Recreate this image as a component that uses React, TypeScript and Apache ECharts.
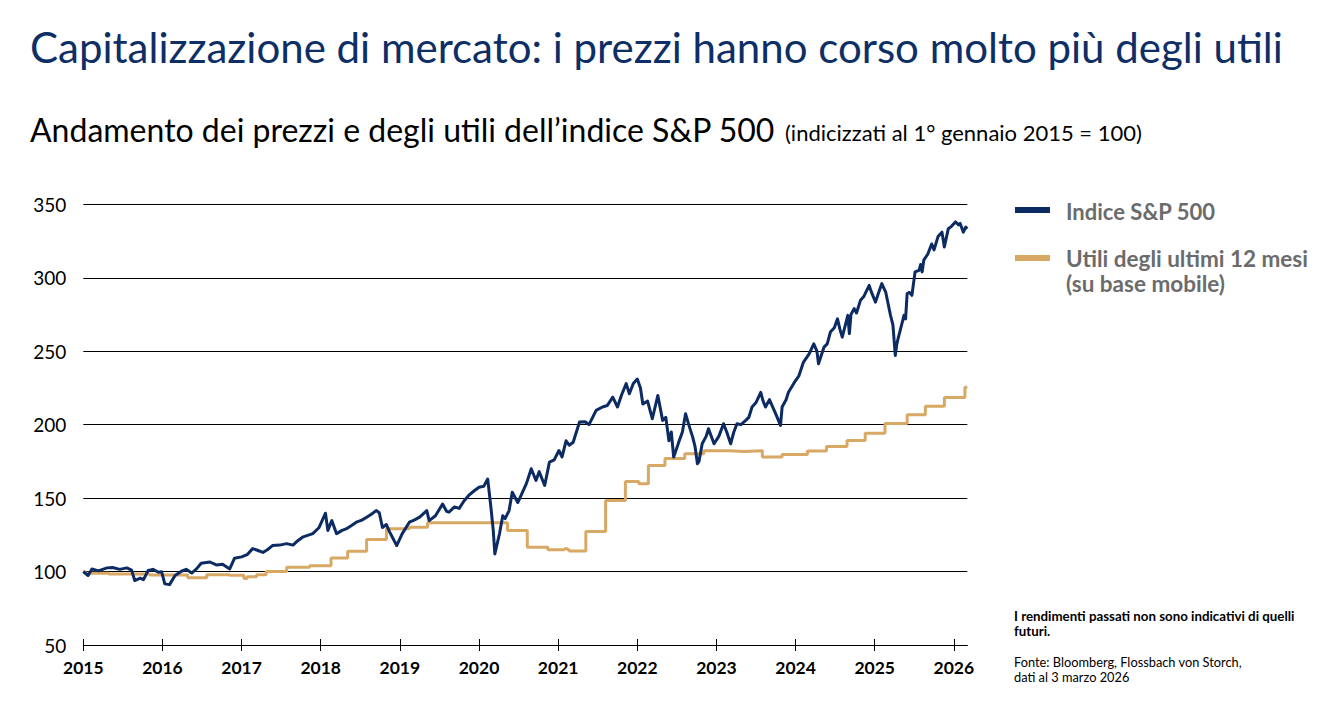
import React, { useEffect, useRef } from "react";
import * as echarts from "echarts";

const yearTicks = [2015, 2016, 2017, 2018, 2019, 2020, 2021, 2022, 2023, 2024, 2025, 2026];

// S&P 500 price index (indexed, 1 Jan 2015 = 100)
const spxDates = [
  2015.0, 2015.06, 2015.11, 2015.19, 2015.3, 2015.37, 2015.46, 2015.55, 2015.61, 2015.65, 2015.72, 2015.76,
  2015.82, 2015.88, 2015.95, 2015.99, 2016.03, 2016.09, 2016.16, 2016.24, 2016.3, 2016.37, 2016.43, 2016.49,
  2016.6, 2016.68, 2016.76, 2016.85, 2016.91, 2017.0, 2017.07, 2017.14, 2017.2, 2017.27, 2017.33, 2017.39,
  2017.48, 2017.57, 2017.65, 2017.71, 2017.77, 2017.9, 2017.98, 2018.06, 2018.09, 2018.14, 2018.2, 2018.27,
  2018.32, 2018.38, 2018.45, 2018.52, 2018.58, 2018.64, 2018.7, 2018.74, 2018.78, 2018.83, 2018.87, 2018.96,
  2019.03, 2019.12, 2019.18, 2019.25, 2019.34, 2019.37, 2019.45, 2019.54, 2019.59, 2019.62, 2019.69, 2019.75,
  2019.81, 2019.87, 2019.94, 2020.0, 2020.06, 2020.11, 2020.15, 2020.18, 2020.2, 2020.26, 2020.3, 2020.33,
  2020.38, 2020.42, 2020.49, 2020.55, 2020.6, 2020.66, 2020.72, 2020.76, 2020.83, 2020.89, 2020.95, 2021.01,
  2021.05, 2021.1, 2021.14, 2021.19, 2021.27, 2021.34, 2021.39, 2021.48, 2021.56, 2021.62, 2021.69, 2021.75,
  2021.8, 2021.86, 2021.9, 2021.95, 2022.0, 2022.04, 2022.07, 2022.13, 2022.19, 2022.26, 2022.32, 2022.36,
  2022.4, 2022.43, 2022.46, 2022.53, 2022.57, 2022.61, 2022.65, 2022.7, 2022.73, 2022.76, 2022.78, 2022.82,
  2022.87, 2022.9, 2022.97, 2023.03, 2023.09, 2023.13, 2023.18, 2023.22, 2023.26, 2023.31, 2023.37, 2023.41,
  2023.45, 2023.5, 2023.56, 2023.59, 2023.62, 2023.67, 2023.73, 2023.76, 2023.81, 2023.83, 2023.88, 2023.91,
  2024.0, 2024.04, 2024.1, 2024.17, 2024.23, 2024.27, 2024.29, 2024.36, 2024.4, 2024.44, 2024.49, 2024.53,
  2024.56, 2024.59, 2024.66, 2024.68, 2024.7, 2024.74, 2024.77, 2024.82, 2024.86, 2024.93, 2024.96, 2025.01,
  2025.05, 2025.09, 2025.14, 2025.2, 2025.23, 2025.26, 2025.28, 2025.3, 2025.34, 2025.37, 2025.39, 2025.41,
  2025.44, 2025.47, 2025.51, 2025.56, 2025.58, 2025.6, 2025.62, 2025.67, 2025.72, 2025.75, 2025.8, 2025.85,
  2025.88, 2025.93, 2025.97, 2026.02, 2026.06, 2026.08, 2026.12, 2026.15, 2026.17,
];
const spxValues = [
  100, 97.3, 101.8, 100.5, 102.5, 102.8, 101.5, 102.5, 101, 93.9, 95.5, 94.5,
  100.7, 101.5, 99.5, 99.8, 91.6, 91.1, 97.3, 100.2, 101.5, 99, 101.8, 105.7,
  106.5, 104.5, 105, 101.8, 109, 110, 111.5, 115.6, 114.5, 113, 115, 117.7,
  118, 119, 118, 121, 123.4, 125.8, 130, 139.7, 128, 134.7, 125.8, 128,
  129, 131, 133.6, 135, 137, 139, 141.5, 140, 130, 132, 127, 117.7,
  125.8, 133.6, 135, 137, 141.5, 134.7, 138, 146, 141, 140.4, 144, 143,
  148, 151.8, 155, 157.4, 158, 163, 144, 128, 112, 126, 138, 136,
  141.5, 154, 147, 154, 160, 170, 162, 168, 158.6, 174.5, 176, 182.4,
  178, 189, 186, 188, 201.8, 202, 200, 209.7, 212, 213, 218.7, 212,
  220, 227.9, 221, 228, 231, 225, 214, 216, 204, 219.9, 202.9, 205,
  189, 195, 177.9, 189, 195, 207.4, 200, 191.5, 185, 173.4, 175, 187,
  192, 197.2, 187, 192, 200.6, 195, 187, 195, 200.6, 200, 202.9, 205,
  212, 215, 222, 216, 212, 217, 209.7, 206, 199.5, 212, 217, 222,
  230, 233, 242.6, 248, 255, 250, 241.5, 252.8, 255, 263, 266, 272,
  265, 259.6, 274.4, 262, 275, 279, 276, 284.6, 287, 294.8, 290, 283.4,
  290, 296, 290, 274.4, 268, 247.1, 255, 259.6, 268, 274.4, 272, 289.2,
  290, 288, 304, 305, 309, 304, 312, 316, 323, 319, 328, 331,
  321, 333.4, 335, 338, 336, 337, 331, 334.5, 333.4,
];

// Trailing 12-month earnings (indexed, 1 Jan 2015 = 100), change dates
const epsDates = [
  2015.0, 2015.02, 2015.32, 2015.84, 2016.32, 2016.56, 2016.85, 2017.03, 2017.07, 2017.19, 2017.31, 2017.57,
  2017.86, 2018.13, 2018.34, 2018.58, 2018.83, 2019.12, 2019.35, 2020.36, 2020.61, 2020.87, 2021.08, 2021.12,
  2021.14, 2021.35, 2021.6, 2021.85, 2022.02, 2022.14, 2022.35, 2022.6, 2022.84, 2023.16, 2023.35, 2023.58,
  2023.83, 2024.15, 2024.39, 2024.65, 2024.88, 2025.13, 2025.41, 2025.64, 2025.88, 2026.14, 2026.17,
];
const epsValues = [
  100, 98.9, 98.3, 97.6, 95.7, 97.9, 97.4, 95.2, 96.5, 97.9, 100, 102.9,
  104, 109.3, 113.8, 121.8, 129.1, 130.2, 133.2, 128, 116.6, 114.8, 115.5, 114.8,
  114, 127.2, 148.3, 161.3, 159.7, 172.2, 176.9, 180.2, 182.2, 181.8, 182.2, 177.9,
  179.7, 182, 185.1, 189.2, 194.1, 200.8, 206.8, 212.5, 218.5, 225.5, 225.5,
];

const NAVY = "#0c2b63";
const GOLD = "#d8a865";
const FONT = "Lato, 'Open Sans', sans-serif";

export default function App() {
  const ref = useRef<HTMLDivElement>(null);
  useEffect(() => {
    if (!ref.current) return;
    const chart = echarts.init(ref.current, undefined, { renderer: "svg" });
    const spx = spxDates.map((d, i) => [d, spxValues[i]]);
    const eps = epsDates.map((d, i) => [d, epsValues[i]]);
    chart.setOption({
      animation: false,
      backgroundColor: "#ffffff",
      textStyle: { fontFamily: FONT },
      grid: { left: 83.3, right: 368.7, top: 204.3, bottom: 65, containLabel: false },
      xAxis: [
        {
          type: "value",
          min: 2015,
          max: 2026.17,
          interval: 1,
          axisLine: { show: true, lineStyle: { color: "#000", width: 1 } },
          axisTick: { show: true, length: 6, customValues: yearTicks, lineStyle: { color: "#000" } },
          axisLabel: {
            show: true,
            customValues: yearTicks,
            formatter: (v: number) => String(Math.round(v)),
            fontFamily: FONT,
            fontWeight: "bold",
            fontSize: 17.5,
            color: "#000",
            margin: 13,
          },
          splitLine: { show: false },
        },
        {
          type: "value",
          min: 2015,
          max: 2026.17,
          interval: 1,
          position: "bottom",
          axisLine: { show: false },
          axisTick: { show: true, inside: true, length: 6, customValues: yearTicks, lineStyle: { color: "#000" } },
          axisLabel: { show: false },
          splitLine: { show: false },
        },
      ],
      yAxis: {
        type: "value",
        min: 50,
        max: 350,
        interval: 50,
        axisLine: { show: false },
        axisTick: { show: false },
        axisLabel: { fontFamily: FONT, fontSize: 19, color: "#000", margin: 17 },
        splitLine: { show: true, lineStyle: { color: "#000", width: 1 } },
      },
      series: [
        {
          name: "Utili degli ultimi 12 mesi (su base mobile)",
          type: "line",
          step: "end",
          data: eps,
          showSymbol: false,
          lineStyle: { color: GOLD, width: 3 },
          itemStyle: { color: GOLD },
          z: 2,
        },
        {
          name: "Indice S&P 500",
          type: "line",
          data: spx,
          showSymbol: false,
          lineStyle: { color: NAVY, width: 3, join: "round" },
          itemStyle: { color: NAVY },
          z: 3,
        },
      ],
      graphic: [
        {
          type: "text",
          x: 30,
          y: 47,
          style: {
            text: "Capitalizzazione di mercato: i prezzi hanno corso molto più degli utili",
            font: `42px ${FONT}`,
            fill: "#0d2f66",
            verticalAlign: "middle",
          },
        },
        {
          type: "text",
          x: 30,
          y: 129,
          style: {
            text: "Andamento dei prezzi e degli utili dell\u2019indice S&P 500",
            font: `32px ${FONT}`,
            fill: "#000",
            verticalAlign: "middle",
          },
        },
        {
          type: "text",
          x: 785,
          y: 132,
          style: {
            text: "(indicizzati al 1° gennaio 2015 = 100)",
            font: `22px ${FONT}`,
            fill: "#000",
            verticalAlign: "middle",
          },
        },
        { type: "rect", shape: { x: 1015, y: 207, width: 35, height: 6 }, style: { fill: NAVY } },
        {
          type: "text",
          x: 1066,
          y: 211,
          style: { text: "Indice S&P 500", font: `bold 22px ${FONT}`, fill: "#6b6b6b", verticalAlign: "middle" },
        },
        { type: "rect", shape: { x: 1015, y: 255, width: 35, height: 6 }, style: { fill: GOLD } },
        {
          type: "text",
          x: 1066,
          y: 258,
          style: { text: "Utili degli ultimi 12 mesi", font: `bold 22.5px ${FONT}`, fill: "#6b6b6b", verticalAlign: "middle" },
        },
        {
          type: "text",
          x: 1066,
          y: 283,
          style: { text: "(su base mobile)", font: `bold 22.5px ${FONT}`, fill: "#6b6b6b", verticalAlign: "middle" },
        },
        {
          type: "text",
          x: 1014,
          y: 616,
          style: { text: "I rendimenti passati non sono indicativi di quelli", font: `bold 13.3px ${FONT}`, fill: "#000", verticalAlign: "middle" },
        },
        {
          type: "text",
          x: 1014,
          y: 631,
          style: { text: "futuri.", font: `bold 13.3px ${FONT}`, fill: "#000", verticalAlign: "middle" },
        },
        {
          type: "text",
          x: 1014,
          y: 662,
          style: { text: "Fonte: Bloomberg, Flossbach von Storch,", font: `12.8px ${FONT}`, fill: "#000", verticalAlign: "middle" },
        },
        {
          type: "text",
          x: 1014,
          y: 677,
          style: { text: "dati al 3 marzo 2026", font: `12.8px ${FONT}`, fill: "#000", verticalAlign: "middle" },
        },
      ],
    });
    return () => chart.dispose();
  }, []);
  return (
    <div
      ref={ref}
      style={{ position: "fixed", left: 0, top: 0, width: 1336, height: 710, background: "#fff" }}
    />
  );
}
